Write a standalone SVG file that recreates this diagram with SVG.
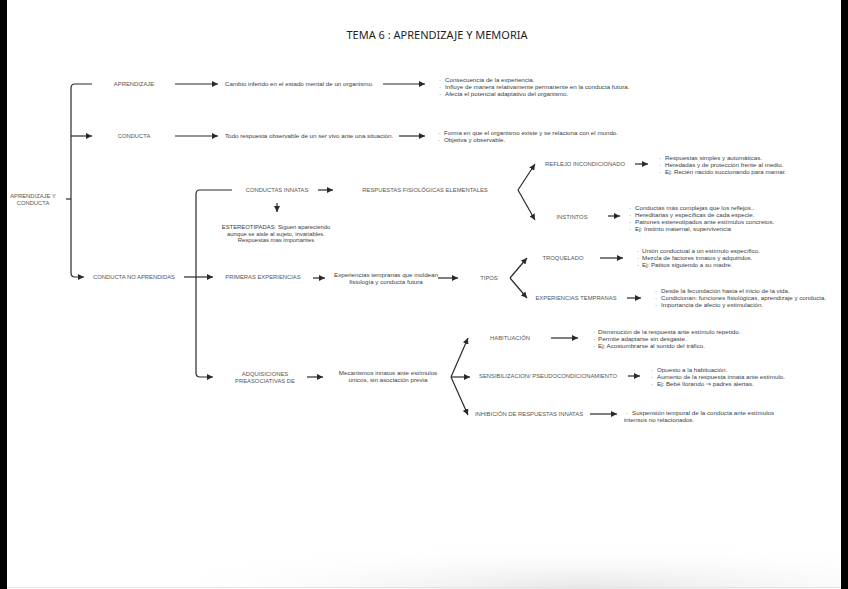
<svg xmlns="http://www.w3.org/2000/svg" width="848" height="589" viewBox="0 0 848 589">
<defs>
<marker id="ah" viewBox="0 0 10 10" refX="10" refY="5" markerWidth="6" markerHeight="6" markerUnits="userSpaceOnUse" orient="auto">
<path d="M0,0 L10,5 L0,10 Z" fill="#2a2a2a"/>
</marker>
<radialGradient id="shade" cx="0.6" cy="1" r="0.7">
<stop offset="0" stop-color="#e6e6e6"/>
<stop offset="1" stop-color="#ffffff" stop-opacity="0"/>
</radialGradient>
<style>
.c{fill:none;stroke:#2a2a2a;stroke-width:1.2}
.a{fill:none;stroke:#2a2a2a;stroke-width:1.2;marker-end:url(#ah)}
.t{font-family:"Liberation Sans","DejaVu Sans",Arial,sans-serif;font-size:6.2px;fill:#404040}
.l{font-family:"Liberation Sans","DejaVu Sans",Arial,sans-serif;font-size:5.85px;fill:#555;text-anchor:middle}
.m{text-anchor:middle}
.s{font-size:5.9px}
.title{font-family:"Noto Sans","Liberation Sans",sans-serif;font-size:11px;fill:#1e1e1e;text-anchor:middle}
</style>
</defs>
<rect width="848" height="589" fill="#fff"/>
<rect x="200" y="520" width="640" height="69" fill="url(#shade)"/>
<rect x="0" y="0" width="7" height="589" fill="#000"/>
<rect x="841" y="0" width="7" height="589" fill="#000"/>
<line x1="7" y1="587.5" x2="841" y2="587.5" stroke="#e4e4e4" stroke-width="1"/>

<text class="title" x="437" y="39">TEMA 6 : APRENDIZAJE Y MEMORIA</text>

<g id="connectors">
<path class="c" d="M66,199 H71"/>
<path class="a" d="M92,84 H75 Q71,84 71,88 V273 Q71,277 75,277 H84"/>
<path class="a" d="M71,136 H92"/>
<path class="a" d="M175,84 H218"/>
<path class="a" d="M383,84 H425"/>
<path class="a" d="M175,136 H218"/>
<path class="a" d="M399,136 H425"/>
<path class="a" d="M232,190 H200 Q196,190 196,194 V373 Q196,377 200,377 H213"/>
<path class="a" d="M184,277 H213"/>
<path class="a" d="M318,190 H333"/>
<path class="a" d="M277,203 V212"/>
<path class="a" d="M518,190 L535,164"/>
<path class="a" d="M518,190 L535,220"/>
<path class="a" d="M635,164 H648"/>
<path class="a" d="M608,216 H620"/>
<path class="a" d="M313,278 H325"/>
<path class="a" d="M438,278 H458"/>
<path class="a" d="M510,278 L527,258"/>
<path class="a" d="M510,278 L527,298"/>
<path class="a" d="M600,258 H623"/>
<path class="a" d="M627,298 H641"/>
<path class="a" d="M307,377 H323"/>
<path class="a" d="M451,377 L468,338"/>
<path class="a" d="M451,377 H470"/>
<path class="a" d="M451,377 L468,415"/>
<path class="a" d="M551,338 H578"/>
<path class="a" d="M628,376 H640"/>
<path class="a" d="M590,414 H617"/>
</g>

<g id="root"><text class="l" x="33" y="198">APRENDIZAJE Y</text><text class="l" x="33" y="205">CONDUCTA</text></g>
<g id="aprendizaje"><text class="l" x="134" y="86">APRENDIZAJE</text></g>
<g id="conducta"><text class="l" x="134" y="138">CONDUCTA</text></g>
<g id="no-aprendidas"><text class="l" x="134" y="279">CONDUCTA NO APRENDIDAS</text></g>

<g id="def-aprendizaje"><text class="t" x="225" y="86">Cambio inferido en el estado mental de un organismo.</text></g>
<g id="def-conducta"><text class="t" x="225" y="138">Todo respuesta observable de un ser vivo ante una situación.</text></g>

<g id="bul-aprendizaje" class="t">
<text x="439" y="82">·</text><text x="445" y="82">Consecuencia de la experiencia.</text>
<text x="439" y="89">·</text><text x="445" y="89">Influye de manera relativamente permanente en la conducta futura.</text>
<text x="439" y="96">·</text><text x="445" y="96">Afecta el potencial adaptativo del organismo.</text>
</g>
<g id="bul-conducta" class="t">
<text x="438" y="135">·</text><text x="444" y="135">Forma en que el organismo existe y se relaciona con el mundo.</text>
<text x="438" y="142">·</text><text x="444" y="142">Objetiva y observable.</text>
</g>

<g id="innatas"><text class="l" x="277" y="192">CONDUCTAS INNATAS</text></g>
<g id="fisiologicas"><text class="l" x="425" y="192">RESPUESTAS FISIOLÓGICAS ELEMENTALES</text></g>
<g id="estereotipadas" class="t m s">
<text x="276" y="229">ESTEREOTIPADAS: Siguen apareciendo</text>
<text x="276" y="235.5">aunque se aisle al sujeto, invariables.</text>
<text x="276" y="242">Respuestas mas importantes</text>
</g>

<g id="reflejo"><text class="l" x="585" y="166">REFLEJO INCONDICIONADO</text></g>
<g id="bul-reflejo" class="t">
<text x="659" y="160">·</text><text x="665" y="160">Respuestas simples y automáticas.</text>
<text x="659" y="167">·</text><text x="665" y="167">Heredadas y de protección frente al medio.</text>
<text x="659" y="174">·</text><text x="665" y="174">Ej: Recién nacido succionando para mamar.</text>
</g>
<g id="instintos"><text class="l" x="572" y="219">INSTINTOS</text></g>
<g id="bul-instintos" class="t">
<text x="629" y="210">·</text><text x="635" y="210">Conductas más complejas que los reflejos..</text>
<text x="629" y="217">·</text><text x="635" y="217">Hereditarias y específicas de cada especie.</text>
<text x="629" y="224">·</text><text x="635" y="224">Patrones estereotipados ante estímulos concretos.</text>
<text x="629" y="231">·</text><text x="635" y="231">Ej: Instinto maternal, supervivencia</text>
</g>

<g id="primeras"><text class="l" x="263" y="279">PRIMERAS EXPERIENCIAS</text></g>
<g id="exp-def" class="t m">
<text x="386" y="276.5">Experiencias tempranas que moldean</text>
<text x="386" y="283.5">fisiología y conducta futura</text>
</g>
<g id="tipos"><text class="l" x="489" y="280">TIPOS</text></g>
<g id="troquelado"><text class="l" x="563" y="260">TROQUELADO</text></g>
<g id="bul-troquelado" class="t">
<text x="637" y="253">·</text><text x="642" y="253">Unión conductual a un estímulo específico.</text>
<text x="637" y="260">·</text><text x="642" y="260">Mezcla de factores innatos y adquiridos.</text>
<text x="637" y="267">·</text><text x="642" y="267">Ej: Patitos siguiendo a su madre.</text>
</g>
<g id="tempranas"><text class="l" x="576" y="300">EXPERIENCIAS TEMPRANAS</text></g>
<g id="bul-tempranas" class="t">
<text x="655" y="293">·</text><text x="661" y="293">Desde la fecundación hasta el inicio de la vida.</text>
<text x="655" y="300">·</text><text x="661" y="300">Condicionan: funciones fisiológicas, aprendizaje y conducta.</text>
<text x="655" y="307">·</text><text x="661" y="307">Importancia de afecto y estimulación.</text>
</g>

<g id="adquisiciones" class="l">
<text x="265" y="376">ADQUISICIONES</text>
<text x="265" y="383">PREASOCIATIVAS DE</text>
</g>
<g id="mecanismos" class="t m">
<text x="388" y="375">Mecanismos innatos ante estímulos</text>
<text x="388" y="382">únicos, sin asociación previa</text>
</g>
<g id="habituacion"><text class="l" x="510" y="340">HABITUACIÓN</text></g>
<g id="bul-habituacion" class="t">
<text x="593" y="334">·</text><text x="598" y="334">Disminución de la respuesta ante estímulo repetido.</text>
<text x="593" y="341">·</text><text x="598" y="341">Permite adaptarse sin desgaste.</text>
<text x="593" y="348">·</text><text x="598" y="348">Ej: Acostumbrarse al sonido del tráfico.</text>
</g>
<g id="sensibilizacion"><text class="l" x="548" y="378">SENSIBILIZACION/ PSEUDOCONDICIONAMIENTO</text></g>
<g id="bul-sensibilizacion" class="t">
<text x="651" y="372">·</text><text x="657" y="372">Opuesto a la habituación.</text>
<text x="651" y="379">·</text><text x="657" y="379">Aumento de la respuesta innata ante estímulo.</text>
<text x="651" y="386">·</text><text x="657" y="386">Ej: Bebé llorando <tspan font-family="DejaVu Sans">→</tspan> padres alertas.</text>
</g>
<g id="inhibicion"><text class="l" x="529" y="416">INHIBICIÓN DE RESPUESTAS INNATAS</text></g>
<g id="bul-inhibicion" class="t">
<text x="626" y="415">·</text><text x="632" y="415">Suspensión temporal de la conducta ante estímulos</text>
<text x="624" y="422">intensos no relacionados.</text>
</g>
</svg>
